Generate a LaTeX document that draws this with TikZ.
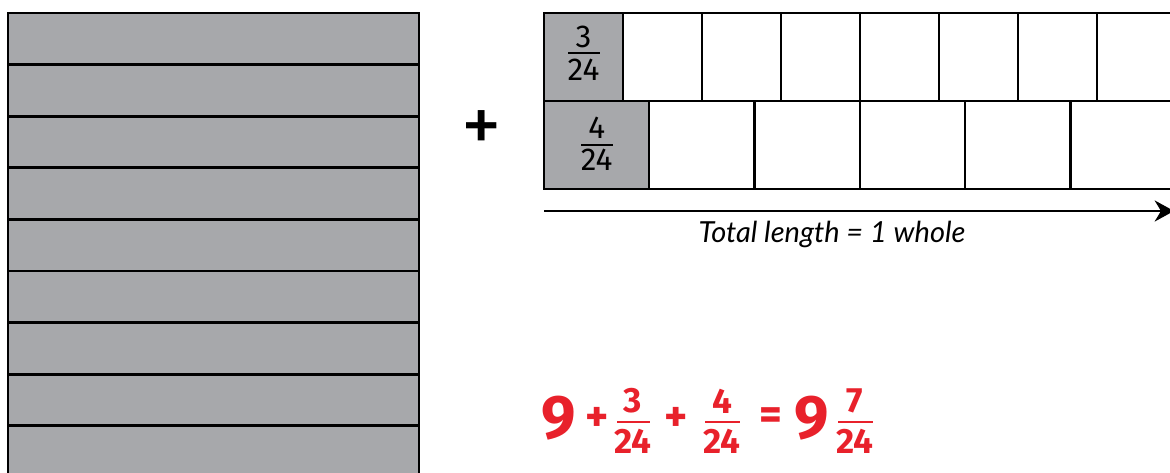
\documentclass[tikz,border=0pt]{standalone}
\usepackage{fontspec}
\setmainfont{Fira Sans}
\newfontfamily\capfont{Lato}
\usetikzlibrary{arrows.meta}
\definecolor{stripgray}{HTML}{A7A8AB}
\definecolor{penred}{HTML}{E8212B}

\begin{document}
\begin{tikzpicture}[
        x=0.02cm, y=-0.02cm,
        strip/.style={fill=stripgray, draw=black, line width=1.6pt},
        cell/.style={draw=black, line width=1.3pt},
        part/.style={cell, fill=stripgray},
        lbl/.style={font=\fontsize{18}{20}\selectfont, inner sep=0pt},
        bar/.style={line width=0.9pt},
        pen/.style={text=penred, inner sep=0pt},
        big/.style={pen, font=\fontsize{35}{37}\selectfont\bfseries},
        op/.style={pen, font=\fontsize{25}{27}\selectfont\bfseries},
        small/.style={pen, font=\fontsize{20}{22}\selectfont\bfseries},
        redbar/.style={draw=penred, line width=1.3pt}]

      \useasboundingbox (0,0) rectangle (1170,473);
      \clip (0,0) rectangle (1170,473);

      % nine wholes
      \foreach \i in {0,...,8}
        \draw[strip] (8,{13+51.6*\i}) rectangle (419,{13+51.6*(\i+1)});

      \node[font=\fontsize{46}{48}\selectfont, inner sep=0pt] (plus) at (482,132) {+};

      % twenty-fourths
      \draw[part] (544,13) rectangle (623,101);
      \foreach \i in {1,...,7}
        \draw[cell] ({544+79*\i},13) rectangle ({544+79*(\i+1)},101);
      \draw[part] (544,101) rectangle (649.3,189);
      \foreach \i in {1,...,5}
        \draw[cell] ({544+105.3*\i},101) rectangle ({544+105.3*(\i+1)},189);

      \node[lbl] (t3n) at (583.5,37) {3};
      \node[lbl] (t3d) at (583.5,70) {24};
      \draw[bar] (568,53) -- (600,53);
      \node[lbl] (t4n) at (596.7,128) {4};
      \node[lbl] (t4d) at (596.7,160) {24};
      \draw[bar] (581,145) -- (613,145);

      \coordinate (a1) at (544,211);
      \coordinate (a2) at (1174,211);
      \draw[line width=1.3pt, -{Stealth[length=11pt, width=12pt]}] (a1) -- (a2);
      \node[font=\capfont\itshape\fontsize{16.5}{18}\selectfont] (total) at (832,234) {Total length = 1 whole};

      % sum
      \node[big] (n9) at (559,418) {9};
      \node[op] (p1) at (597,419) {+};
      \node[small] (e1n) at (633,401) {3};
      \node[small] (e1d) at (633,441) {24};
      \draw[redbar] (617,422) -- (650,422);
      \node[op] (p2) at (676,419) {+};
      \node[small] (e2n) at (722,401) {4};
      \node[small] (e2d) at (722,441) {24};
      \draw[redbar] (705,422) -- (740,422);
      \node[op] (eq) at (771,419) {=};
      \node[big] (m9) at (812,418) {9};
      \node[small] (e3n) at (855,401) {7};
      \node[small] (e3d) at (855,441) {24};
      \draw[redbar] (838,422) -- (873,422);

    \end{tikzpicture}
\end{document}
